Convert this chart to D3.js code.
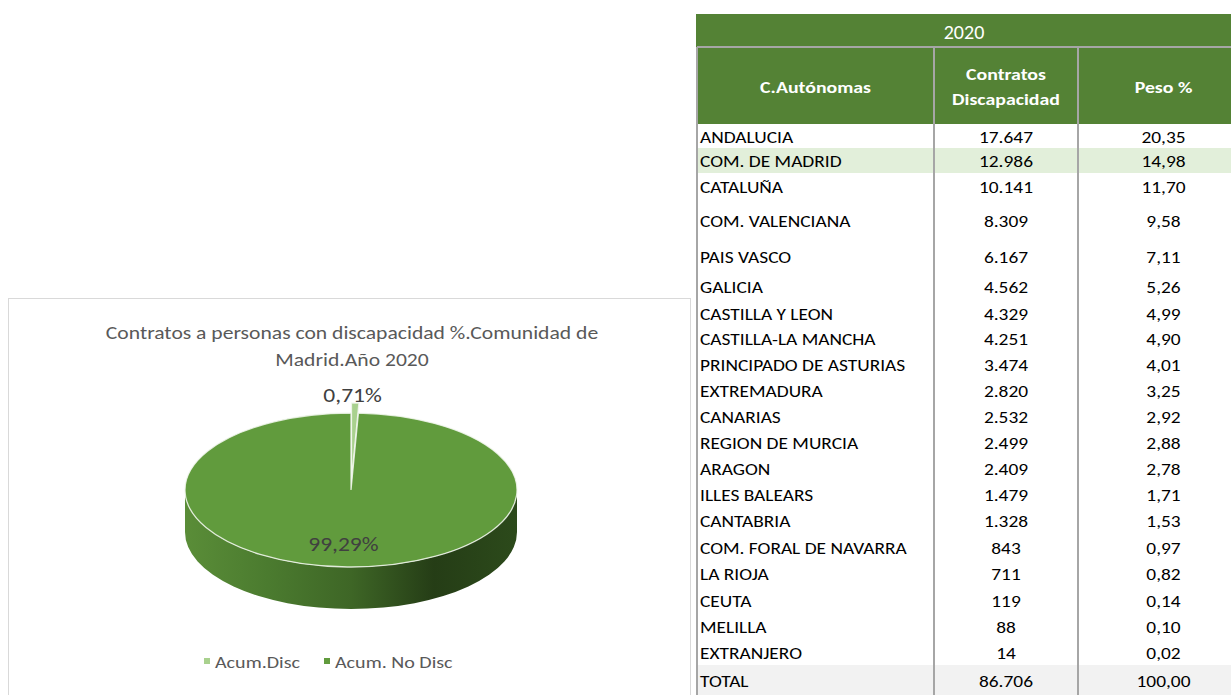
<!DOCTYPE html>
<html>
<head>
<meta charset="utf-8">
<script src="https://cdn.jsdelivr.net/npm/d3@7"></script>
<style>
  body { margin: 0; background: #fff; }
  svg { display: block; }
</style>
</head>
<body>
<div id="chart"></div>
<script>
const w = 1231;
const h = 695;

// table data
const regions = ['ANDALUCIA', 'COM. DE MADRID', 'CATALUÑA', 'COM. VALENCIANA', 'PAIS VASCO', 'GALICIA',
  'CASTILLA Y LEON', 'CASTILLA-LA MANCHA', 'PRINCIPADO DE ASTURIAS', 'EXTREMADURA', 'CANARIAS',
  'REGION DE MURCIA', 'ARAGON', 'ILLES BALEARS', 'CANTABRIA', 'COM. FORAL DE NAVARRA', 'LA RIOJA',
  'CEUTA', 'MELILLA', 'EXTRANJERO'];
const contratos = [17647, 12986, 10141, 8309, 6167, 4562, 4329, 4251, 3474, 2820, 2532, 2499, 2409,
  1479, 1328, 843, 711, 119, 88, 14];
const peso = [20.35, 14.98, 11.70, 9.58, 7.11, 5.26, 4.99, 4.90, 4.01, 3.25, 2.92, 2.88, 2.78,
  1.71, 1.53, 0.97, 0.82, 0.14, 0.10, 0.02];
const totalLabel = 'TOTAL';
const totalContratos = 86706;
const totalPeso = 100;
const yearLabel = '2020';
const headers = [['C.Autónomas'], ['Contratos', 'Discapacidad'], ['Peso %']];
const highlightRegion = 'COM. DE MADRID';

// pie data
const pieTitle = ['Contratos a personas con discapacidad %.Comunidad de', 'Madrid.Año 2020'];
const pieLabels = ['Acum.Disc', 'Acum. No Disc'];
const pieValues = [0.71, 99.29];

// layout
const font = 'Carlito, Calibri, Lato, sans-serif';
const green = '#548235';
const grid = '#a6a6a6';
const colEdges = [697, 934, 1078, w];
const headTop = 14, headMid = 47, headBottom = 124;
const rowHeights = [24, 25, 27, 40, 32, 28, 26, 25, 26, 26, 26, 26, 26, 26, 27, 26, 27, 26, 26, 26, 30];

const es = d3.formatLocale({ decimal: ',', thousands: '.', grouping: [3], currency: ['', '€'] });
const fmtInt = es.format(',d');
const fmtDec = es.format(',.2f');

// widen text a little (the original uses a wider face)
function stretch(sel, f) {
  sel.each(function () {
    const len = this.getComputedTextLength();
    d3.select(this)
      .attr('textLength', len * f)
      .attr('lengthAdjust', 'spacingAndGlyphs');
  });
}

const svg = d3.select('#chart')
  .append('svg')
  .attr('width', w)
  .attr('height', h);

//---------------- table ----------------
const rowKeys = regions.concat([totalLabel]);
const tops = Array.from(d3.cumsum([headBottom].concat(rowHeights))).slice(0, rowKeys.length);
const rowY = d3.scaleOrdinal().domain(rowKeys).range(tops);
const rowH = d3.scaleOrdinal().domain(rowKeys).range(rowHeights);
const colCenter = i => (colEdges[i] + colEdges[i + 1]) / 2;

const rows = rowKeys.map((r, i) => ({
  name: r,
  contratos: i < regions.length ? contratos[i] : totalContratos,
  peso: i < regions.length ? peso[i] : totalPeso
}));

// green header blocks
svg.append('rect')
  .attr('x', colEdges[0] - 1).attr('y', headTop)
  .attr('width', w - colEdges[0] + 1).attr('height', headBottom - headTop)
  .attr('fill', green);

svg.append('text')
  .attr('x', (colEdges[0] + w) / 2)
  .attr('y', (headTop + headMid) / 2 + 1)
  .attr('text-anchor', 'middle')
  .attr('dominant-baseline', 'central')
  .style('font-family', font)
  .style('font-size', '20px')
  .attr('fill', '#fff')
  .text(yearLabel);

headers.forEach((lines, i) => {
  const cy = (headMid + headBottom) / 2 + 1;
  lines.forEach((t, j) => {
    const txt = svg.append('text')
      .attr('x', colCenter(i) + (i === 2 ? 9 : 0))
      .attr('y', cy + (j - (lines.length - 1) / 2) * 25)
      .attr('text-anchor', 'middle')
      .attr('dominant-baseline', 'central')
      .style('font-family', font)
      .style('font-size', '16.5px')
      .style('font-weight', 'bold')
      .attr('fill', '#fff')
      .text(t);
    stretch(txt, 1.2);
  });
});

// row bands
svg.selectAll('rect.band')
  .data(rows.filter(d => d.name === highlightRegion || d.name === totalLabel))
  .enter()
  .append('rect')
  .attr('class', 'band')
  .attr('x', colEdges[0])
  .attr('y', d => rowY(d.name))
  .attr('width', w - colEdges[0])
  .attr('height', d => rowH(d.name))
  .attr('fill', d => d.name === totalLabel ? '#f2f2f2' : '#e2efda');

const rowText = svg.selectAll('g.row')
  .data(rows)
  .enter()
  .append('g')
  .attr('class', 'row')
  .attr('transform', d => 'translate(0,' + (rowY(d.name) + rowH(d.name) / 2 + 1) + ')')
  .style('font-family', font)
  .style('font-size', '15.5px')
  .attr('fill', '#000');

rowText.append('text')
  .attr('x', colEdges[0] + 3)
  .attr('dominant-baseline', 'central')
  .text(d => d.name);

rowText.append('text')
  .attr('x', colCenter(1))
  .attr('text-anchor', 'middle')
  .attr('dominant-baseline', 'central')
  .text(d => fmtInt(d.contratos));

rowText.append('text')
  .attr('x', colCenter(2) + 9)
  .attr('text-anchor', 'middle')
  .attr('dominant-baseline', 'central')
  .text(d => fmtDec(d.peso));

stretch(rowText.selectAll('text'), 1.25);

// grid lines
svg.append('line')
  .attr('x1', colEdges[0]).attr('x2', w)
  .attr('y1', headMid).attr('y2', headMid)
  .attr('stroke', grid).attr('stroke-width', 2);

svg.selectAll('line.vgrid')
  .data(colEdges.slice(0, 3))
  .enter()
  .append('line')
  .attr('class', 'vgrid')
  .attr('x1', d => d).attr('x2', d => d)
  .attr('y1', headMid).attr('y2', h)
  .attr('stroke', grid).attr('stroke-width', 2);

//---------------- pie chart ----------------
svg.append('rect')
  .attr('x', 8.5).attr('y', 298.5)
  .attr('width', 682).attr('height', 420)
  .attr('fill', '#fff')
  .attr('stroke', '#d9d9d9');

const titles = svg.selectAll('text.ptitle')
  .data(pieTitle)
  .enter()
  .append('text')
  .attr('class', 'ptitle')
  .attr('x', 352)
  .attr('y', (d, i) => 333 + i * 27)
  .attr('text-anchor', 'middle')
  .attr('dominant-baseline', 'central')
  .style('font-family', font)
  .style('font-size', '18px')
  .attr('fill', '#595959')
  .text(d => d);
stretch(titles, 1.2);

const pieColors = d3.scaleOrdinal().domain(pieLabels).range(['#a9d18e', '#619b3d']);
const cx = 351, cy = 490, rx = 166, ry = 77, depth = 42;
const k = ry / rx;
const explode = 10 / k;

const defs = svg.append('defs');
const grad = defs.append('linearGradient').attr('id', 'sideGrad')
  .attr('x1', 0).attr('x2', 1).attr('y1', 0).attr('y2', 0);
[[0, '#5a8d38'], [0.25, '#4b7b2f'], [0.5, '#3e6626'], [0.75, '#253d16'], [1, '#2c4a1b']]
  .forEach(s => grad.append('stop').attr('offset', s[0]).attr('stop-color', s[1]));

const arcs = d3.pie().sort(null)(pieValues);
arcs.forEach((a, i) => { a.label = pieLabels[i]; });
const arc = d3.arc().innerRadius(0).outerRadius(rx);
const offset = a => {
  if (a.value > 5) return [0, 0];
  const m = (a.startAngle + a.endAngle) / 2;
  return [Math.sin(m) * explode, -Math.cos(m) * explode];
};

const pieG = svg.append('g')
  .attr('transform', 'translate(' + cx + ',' + cy + ') scale(1,' + k + ')');

// side wall (front half only)
const sidePath = a => {
  const a0 = Math.max(a.startAngle, Math.PI / 2);
  const a1 = Math.min(a.endAngle, Math.PI * 3 / 2);
  if (a1 <= a0) return null;
  const t0 = a0 - Math.PI / 2, t1 = a1 - Math.PI / 2, d = depth / k;
  const p = d3.path();
  p.moveTo(rx * Math.cos(t0), rx * Math.sin(t0));
  p.arc(0, 0, rx, t0, t1, false);
  p.lineTo(rx * Math.cos(t1), rx * Math.sin(t1) + d);
  p.arc(0, d, rx, t1, t0, true);
  p.closePath();
  return p.toString();
};

pieG.selectAll('path.side')
  .data(arcs.filter(a => sidePath(a)))
  .enter()
  .append('path')
  .attr('class', 'side')
  .attr('transform', a => 'translate(' + offset(a) + ')')
  .attr('d', sidePath)
  .attr('fill', 'url(#sideGrad)');

pieG.selectAll('path.top')
  .data(arcs)
  .enter()
  .append('path')
  .attr('class', 'top')
  .attr('transform', a => 'translate(' + offset(a) + ')')
  .attr('d', arc)
  .attr('fill', a => pieColors(a.label))
  .attr('stroke', '#f2f7ee')
  .attr('stroke-opacity', 0.85)
  .attr('stroke-width', 1.3)
  .attr('vector-effect', 'non-scaling-stroke');

// data labels
const inArc = d3.arc().innerRadius(rx * 0.7).outerRadius(rx * 0.7);
const outArc = d3.arc().innerRadius(rx * 1.24).outerRadius(rx * 1.24);
const plabels = svg.selectAll('text.plabel')
  .data(arcs)
  .enter()
  .append('text')
  .attr('class', 'plabel')
  .attr('x', a => cx + (a.value > 5 ? inArc : outArc).centroid(a)[0] - (a.value > 5 ? 5 : 3))
  .attr('y', a => cy + (a.value > 5 ? inArc : outArc).centroid(a)[1] * k)
  .attr('text-anchor', 'middle')
  .attr('dominant-baseline', 'central')
  .style('font-family', font)
  .style('font-size', '21px')
  .attr('fill', '#404040')
  .text(a => es.format('.2f')(a.value) + '%');
stretch(plabels, 1.12);

// legend
const legend = svg.selectAll('g.legend')
  .data(pieLabels)
  .enter()
  .append('g')
  .attr('class', 'legend')
  .attr('transform', (d, i) => 'translate(' + (204 + i * 120) + ',662)');

legend.append('rect')
  .attr('x', 0).attr('y', -4)
  .attr('width', 6).attr('height', 6)
  .attr('fill', d => pieColors(d));

const legText = legend.append('text')
  .attr('x', 11)
  .attr('dominant-baseline', 'central')
  .style('font-family', font)
  .style('font-size', '17px')
  .attr('fill', '#595959')
  .text(d => d);
stretch(legText, 1.18);
</script>
</body>
</html>
